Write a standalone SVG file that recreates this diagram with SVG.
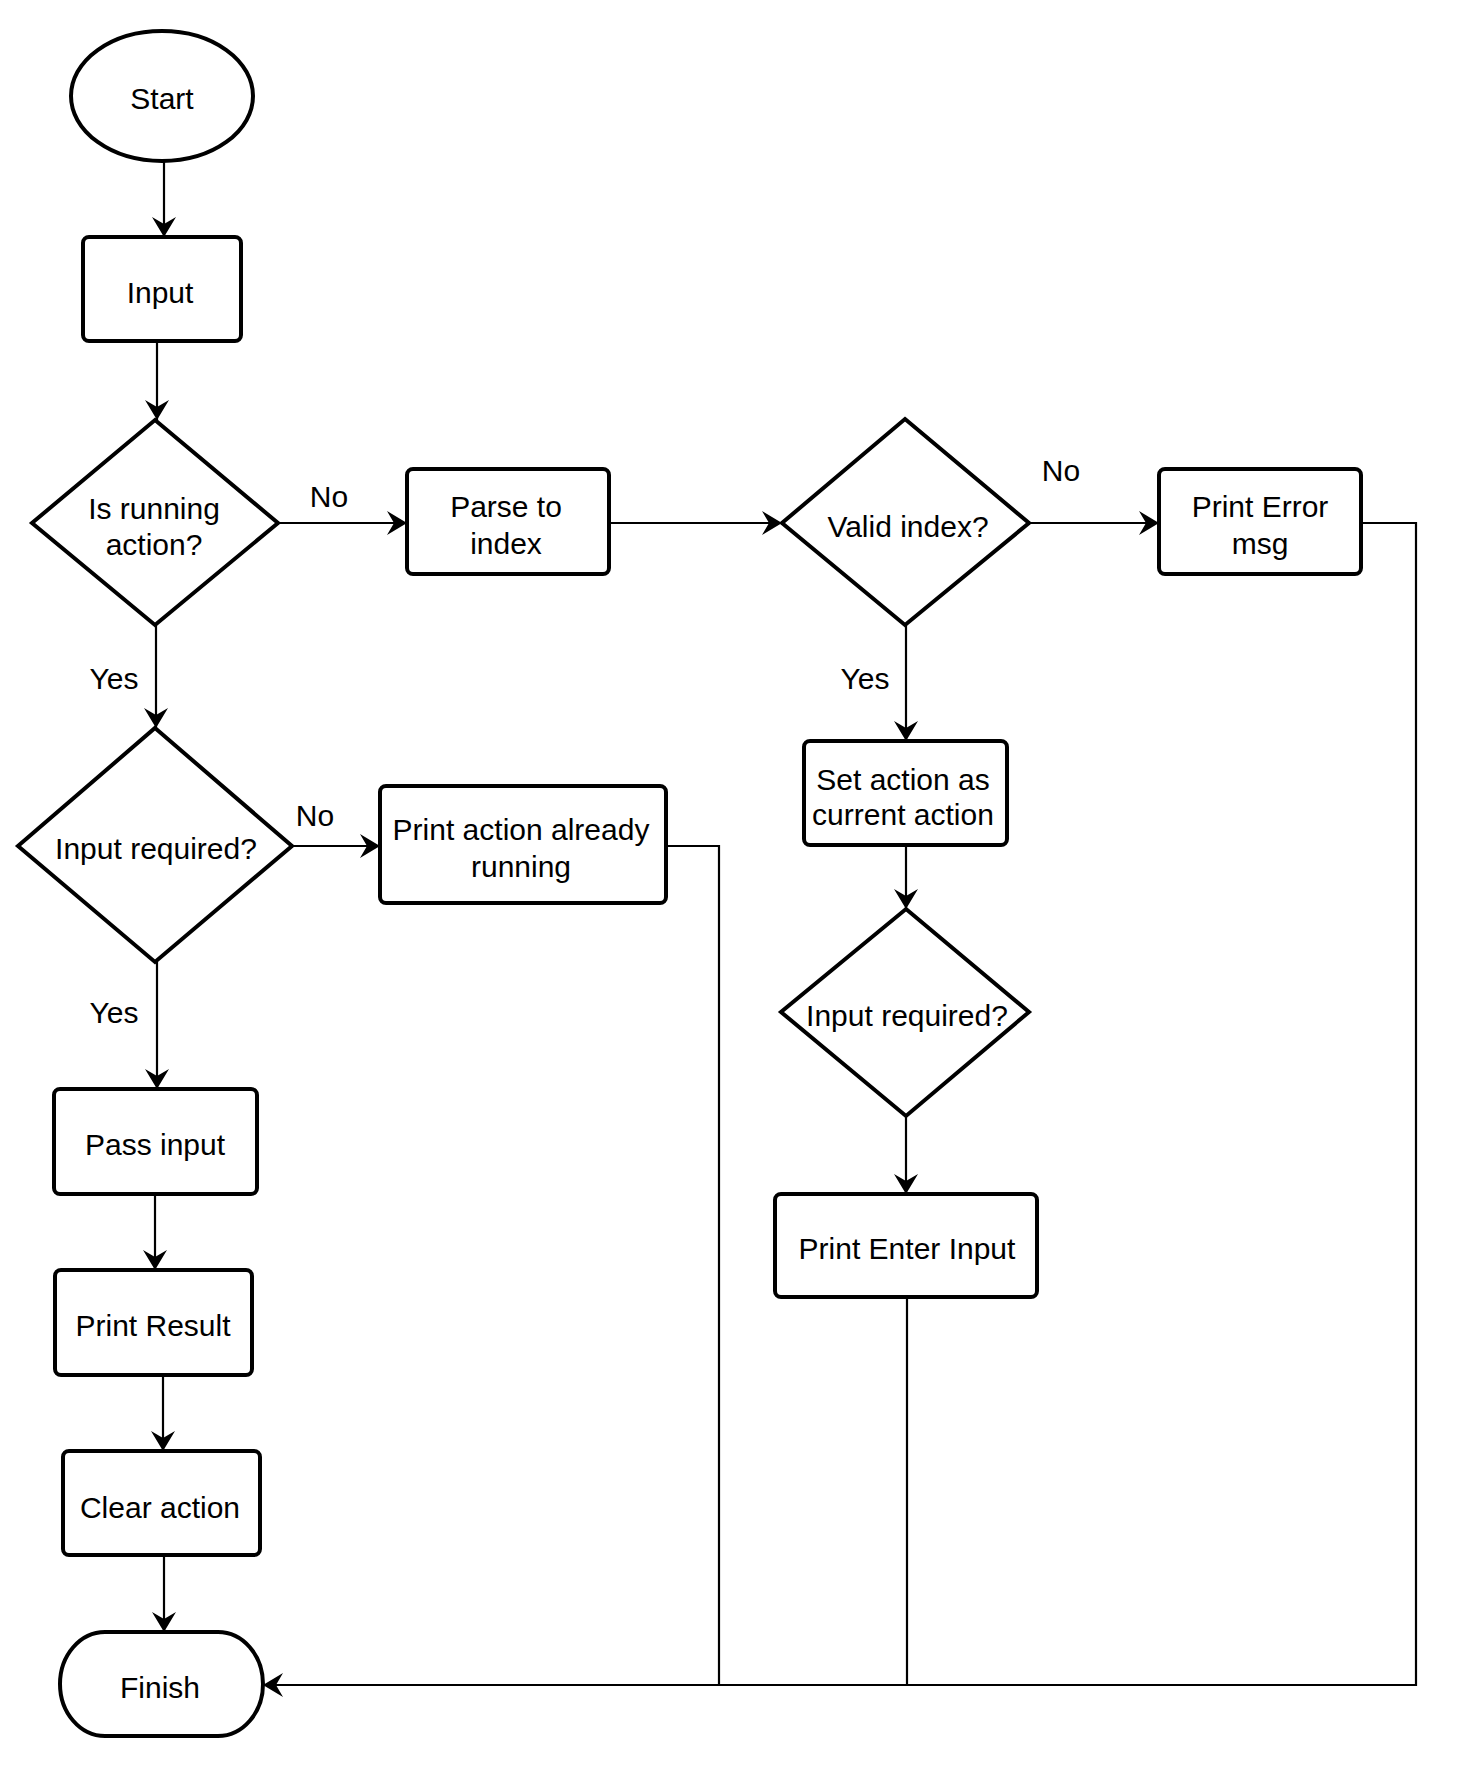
<svg xmlns="http://www.w3.org/2000/svg" width="1484" height="1788" viewBox="0 0 1484 1788">
<style>
.n{fill:#fff;stroke:#000;stroke-width:4;stroke-linejoin:miter}
.c{fill:none;stroke:#000;stroke-width:2.2}
text{font-family:"Liberation Sans",Arial,sans-serif;font-size:30px;fill:#000;text-anchor:middle}
</style>
<defs>
<marker id="arr" markerWidth="22" markerHeight="26" refX="20" refY="13" orient="auto" markerUnits="userSpaceOnUse" viewBox="0 0 22 26">
<path d="M0,1 L20,13 L0,25 L7,13 Z" fill="#000"/>
</marker>
</defs>
<rect width="1484" height="1788" fill="#fff"/>
<g id="connectors">
<line class="c" x1="164" y1="161" x2="164" y2="237" marker-end="url(#arr)"/>
<line class="c" x1="157" y1="342" x2="157" y2="420" marker-end="url(#arr)"/>
<line class="c" x1="278" y1="523" x2="407" y2="523" marker-end="url(#arr)"/>
<line class="c" x1="609" y1="523" x2="782" y2="523" marker-end="url(#arr)"/>
<line class="c" x1="1029" y1="523" x2="1159" y2="523" marker-end="url(#arr)"/>
<polyline class="c" points="1361,523 1416,523 1416,1685 263,1685" marker-end="url(#arr)"/>
<line class="c" x1="156" y1="625" x2="156" y2="728" marker-end="url(#arr)"/>
<line class="c" x1="292" y1="846" x2="380" y2="846" marker-end="url(#arr)"/>
<polyline class="c" points="666,846 719,846 719,1685"/>
<line class="c" x1="157" y1="962" x2="157" y2="1089" marker-end="url(#arr)"/>
<line class="c" x1="155" y1="1194" x2="155" y2="1270" marker-end="url(#arr)"/>
<line class="c" x1="163" y1="1375" x2="163" y2="1451" marker-end="url(#arr)"/>
<line class="c" x1="164" y1="1555" x2="164" y2="1632" marker-end="url(#arr)"/>
<line class="c" x1="906" y1="625" x2="906" y2="741" marker-end="url(#arr)"/>
<line class="c" x1="906" y1="845" x2="906" y2="909" marker-end="url(#arr)"/>
<line class="c" x1="906" y1="1116" x2="906" y2="1194" marker-end="url(#arr)"/>
<line class="c" x1="907" y1="1297" x2="907" y2="1685"/>
<text x="329" y="507">No</text>
<text x="1061" y="481">No</text>
<text x="315" y="826">No</text>
<text x="114" y="689">Yes</text>
<text x="114" y="1023">Yes</text>
<text x="865" y="689">Yes</text>
</g>
<g id="start">
<ellipse class="n" cx="162" cy="96" rx="91" ry="65"/>
<text x="162" y="109">Start</text>
</g>
<g id="input">
<rect class="n" x="83" y="237" width="158" height="104" rx="6"/>
<text x="160" y="303">Input</text>
</g>
<g id="is-running">
<polygon class="n" points="155,420 278,523 155,625 32,523"/>
<text x="154" y="519">Is running</text>
<text x="154" y="555">action?</text>
</g>
<g id="parse">
<rect class="n" x="407" y="469" width="202" height="105" rx="6"/>
<text x="506" y="517">Parse to</text>
<text x="506" y="554">index</text>
</g>
<g id="valid-index">
<polygon class="n" points="905,419 1029,523 905,625 782,523"/>
<text x="908" y="537">Valid index?</text>
</g>
<g id="print-error">
<rect class="n" x="1159" y="469" width="202" height="105" rx="6"/>
<text x="1260" y="517">Print Error</text>
<text x="1260" y="554">msg</text>
</g>
<g id="input-required-1">
<polygon class="n" points="155,728 292,846 155,962 18,846"/>
<text x="156" y="859">Input required?</text>
</g>
<g id="print-already">
<rect class="n" x="380" y="786" width="286" height="117" rx="6"/>
<text x="521" y="840">Print action already</text>
<text x="521" y="877">running</text>
</g>
<g id="pass-input">
<rect class="n" x="54" y="1089" width="203" height="105" rx="6"/>
<text x="155" y="1155">Pass input</text>
</g>
<g id="print-result">
<rect class="n" x="55" y="1270" width="197" height="105" rx="6"/>
<text x="153" y="1336">Print Result</text>
</g>
<g id="clear-action">
<rect class="n" x="63" y="1451" width="197" height="104" rx="6"/>
<text x="160" y="1518">Clear action</text>
</g>
<g id="finish">
<rect class="n" x="60" y="1632" width="203" height="104" rx="45" ry="52"/>
<text x="160" y="1698">Finish</text>
</g>
<g id="set-action">
<rect class="n" x="804" y="741" width="203" height="104" rx="6"/>
<text x="903" y="790">Set action as</text>
<text x="903" y="825">current action</text>
</g>
<g id="input-required-2">
<polygon class="n" points="906,909 1029,1012 906,1116 781,1012"/>
<text x="907" y="1026">Input required?</text>
</g>
<g id="print-enter">
<rect class="n" x="775" y="1194" width="262" height="103" rx="6"/>
<text x="907" y="1259">Print Enter Input</text>
</g>
</svg>
